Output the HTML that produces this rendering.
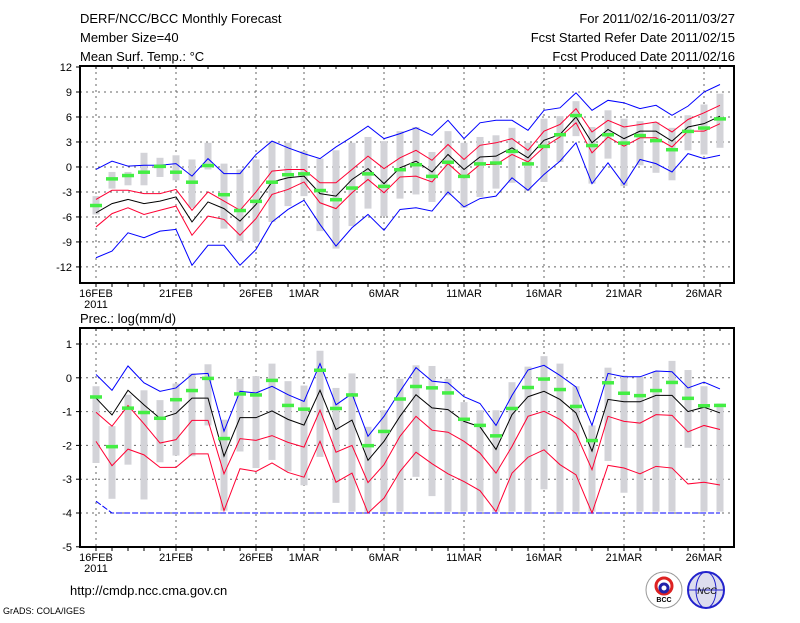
<!DOCTYPE html>
<html><head><meta charset="utf-8"><style>
body{margin:0;background:#fff;width:800px;height:618px;overflow:hidden}
svg text{font-family:"Liberation Sans",sans-serif;fill:#000}
</style></head><body>
<svg id="c" width="800" height="618" xmlns="http://www.w3.org/2000/svg">
<text x="80" y="23" font-size="13">DERF/NCC/BCC Monthly Forecast</text>
<text x="80" y="42" font-size="13">Member Size=40</text>
<text x="80" y="61" font-size="13">Mean Surf. Temp.: °C</text>
<text x="735" y="23" font-size="13" text-anchor="end">For 2011/02/16-2011/03/27</text>
<text x="735" y="42" font-size="13" text-anchor="end">Fcst Started Refer Date 2011/02/15</text>
<text x="735" y="61" font-size="13" text-anchor="end">Fcst Produced Date 2011/02/16</text>
<text x="80" y="323" font-size="13">Prec.: log(mm/d)</text>
<text x="70" y="595" font-size="13">http://cmdp.ncc.cma.gov.cn</text>
<text x="3" y="614" font-size="9">GrADS: COLA/IGES</text>
<g>
<circle cx="664" cy="590" r="18" fill="#fff" stroke="#999"/>
<circle cx="664" cy="586" r="8" fill="none" stroke="#d22" stroke-width="3"/>
<circle cx="664" cy="588" r="4" fill="none" stroke="#22a" stroke-width="3"/>
<text x="664" y="602" font-size="7" text-anchor="middle" font-weight="bold">BCC</text>
</g>
<g>
<circle cx="706" cy="590" r="18" fill="#dde" stroke="#22c" stroke-width="2"/>
<ellipse cx="706" cy="590" rx="10" ry="18" fill="none" stroke="#22c"/>
<line x1="688" y1="590" x2="724" y2="590" stroke="#22c"/>
<text x="707" y="594" font-size="9" text-anchor="middle" fill="#22c" font-style="italic">NCC</text>
</g>
</svg>
<script>
const dateLabels=["16FEB","21FEB","26FEB","1MAR","6MAR","11MAR","16MAR","21MAR","26MAR"];
const dateDays=[0,5,10,13,18,23,28,33,38];
// Temperature panel
const tBlueHi=[-0.3,0.7,0.1,0.2,0.2,0.4,-1.1,1.0,-0.8,-0.8,1.5,3.1,2.3,1.6,1.0,2.4,3.6,4.9,3.4,4.0,4.7,3.8,5.6,3.4,5.3,5.6,5.6,4.4,6.8,7.1,8.9,6.8,8.0,7.7,7.0,7.4,6.2,7.3,9.0,9.9];
const tBlueLo=[-10.9,-10.1,-7.9,-8.5,-7.7,-7.5,-11.8,-9.4,-9.4,-11.8,-9.9,-6.6,-5.1,-4.0,-6.9,-9.5,-7.3,-5.7,-7.6,-5.1,-4.9,-5.3,-3.0,-4.8,-3.8,-3.5,-1.3,-2.8,-0.9,0.7,2.9,-2.0,0.5,-2.1,0.9,0.4,-0.6,1.6,1.0,1.4];
const tRedHi=[-3.9,-2.8,-2.8,-3.2,-3.2,-2.7,-5.2,-3.0,-4.1,-5.2,-3.0,-0.5,-0.3,-0.3,-1.9,-1.9,-0.3,1.3,-0.2,1.1,2.0,0.8,2.7,0.9,2.6,2.9,3.4,2.0,4.3,5.1,7.0,4.2,5.6,4.8,5.1,5.4,4.2,5.7,6.5,7.4];
const tRedLo=[-7.2,-5.6,-4.9,-5.7,-5.2,-4.7,-8.2,-5.9,-6.3,-8.2,-6.2,-3.3,-2.7,-1.8,-4.3,-5.0,-3.1,-1.5,-3.1,-1.2,-1.1,-1.8,0.4,-1.3,0.3,0.3,1.5,0.6,2.4,3.6,5.3,1.7,3.6,2.5,3.5,3.5,2.4,4.3,4.3,5.2];
const tMean=[-5.5,-4.4,-3.9,-4.4,-4.1,-3.6,-6.6,-4.2,-5.0,-6.5,-4.5,-1.8,-1.3,-1.1,-3.2,-3.5,-1.5,-0.2,-2.0,-0.1,0.7,-0.6,1.5,-0.3,1.2,1.3,2.3,1.1,3.2,3.9,6.0,2.9,4.5,3.4,4.3,4.3,3.1,4.8,5.2,6.1];
const tBarHi=[-3.5,-0.6,-0.6,1.7,1.1,1.4,0.9,2.9,0.4,-0.3,0.9,3.1,2.9,1.9,1.0,2.0,2.9,3.6,3.1,4.3,4.8,1.8,4.3,2.9,3.6,3.8,4.7,2.9,5.8,6.1,7.9,4.8,6.8,5.8,5.5,5.4,4.7,6.2,7.5,8.8];
const tBarLo=[-5.7,-2.6,-2.2,-2.2,-1.2,-1.6,-4.9,-0.3,-7.4,-8.9,-9.0,-6.6,-4.7,-3.5,-7.7,-9.8,-7.1,-5.0,-5.9,-3.8,-3.3,-4.2,-3.4,-4.9,-3.6,-2.6,-1.9,-2.9,-1.8,0.6,3.7,-2.0,1.0,-2.3,0.2,-0.7,-1.6,2.0,1.5,2.3];
const tObs=[-4.6,-1.4,-1.0,-0.6,0.1,-0.6,-1.8,0.2,-3.3,-5.2,-4.1,-1.8,-0.9,-0.8,-2.8,-3.9,-2.5,-0.8,-2.3,-0.3,0.3,-1.1,0.6,-1.1,0.4,0.5,1.9,0.4,2.5,3.9,6.2,2.6,3.9,2.9,3.8,3.2,2.1,4.3,4.7,5.8];
const tTicks=[12,9,6,3,0,-3,-6,-9,-12];
// Precipitation panel
const pBlueHi=[0.1,-0.37,0.35,-0.15,-0.4,-0.3,0.1,0.13,-1.58,-0.4,-0.45,-0.25,-0.5,-0.7,0.42,-0.8,-0.47,-1.73,-1.14,-0.4,0.3,-0.1,-0.15,-0.56,-0.76,-1.41,-0.52,0.23,0.37,0.07,-0.27,-1.41,0.13,0.03,0.03,0.2,0.18,-0.3,-0.13,-0.33];
const pBlueLo=[-3.65,-4,-4,-4,-4,-4,-4,-4,-4,-4,-4,-4,-4,-4,-4,-4,-4,-4,-4,-4,-4,-4,-4,-4,-4,-4,-4,-4,-4,-4,-4,-4,-4,-4,-4,-4,-4,-4,-4,-4];
const pRedHi=[-1.02,-1.43,-0.82,-1.36,-1.93,-1.83,-1.26,-1.26,-2.84,-1.8,-1.85,-1.71,-1.91,-2.05,-0.96,-2.2,-2.0,-3.1,-2.57,-1.73,-1.14,-1.55,-1.61,-1.88,-2.23,-2.82,-2.03,-1.14,-0.99,-1.23,-1.65,-2.72,-1.14,-1.29,-1.34,-1.09,-1.11,-1.6,-1.41,-1.53];
const pRedLo=[-1.88,-2.6,-2.11,-2.28,-2.65,-2.65,-2.25,-2.25,-3.93,-2.69,-2.77,-2.52,-2.8,-2.94,-1.88,-3.09,-2.82,-4.0,-3.56,-2.77,-2.2,-2.54,-2.84,-3.07,-3.34,-3.96,-2.82,-2.35,-2.13,-2.57,-2.87,-4.0,-2.59,-2.67,-2.84,-2.62,-2.67,-3.14,-3.09,-3.17];
const pMean=[-0.6,-1.1,-0.37,-0.8,-1.2,-1.05,-0.6,-0.6,-2.32,-1.18,-1.18,-0.98,-1.23,-1.4,-0.37,-1.53,-1.25,-2.44,-1.88,-1.14,-0.5,-0.89,-0.94,-1.29,-1.45,-2.12,-1.09,-0.56,-0.4,-0.64,-1.04,-2.17,-0.64,-0.71,-0.71,-0.52,-0.52,-1.0,-0.87,-1.04];
const pBarHi=[-0.25,-1.43,-0.5,-0.37,-0.66,-0.17,0.13,0.4,-1.24,-0.03,0.05,0.42,-0.1,-0.23,0.8,-0.3,0.13,-1.45,-0.96,-0.03,0.37,0.35,-0.03,-0.72,-0.96,-0.96,-0.13,0.33,0.64,0.42,-0.25,-1.41,0.3,0.07,0.03,0.2,0.5,0.23,-0.25,-0.76];
const pBarLo=[-2.52,-3.58,-2.57,-3.6,-2.5,-2.3,-2.32,-1.41,-3.93,-2.18,-2.67,-2.43,-2.77,-3.18,-2.34,-3.7,-3.96,-3.96,-3.96,-3.96,-2.93,-3.5,-3.96,-3.96,-3.96,-3.96,-3.96,-3.96,-3.3,-3.96,-3.96,-3.96,-2.46,-3.4,-3.96,-3.96,-3.96,-2.07,-3.96,-3.96];
const pObs=[-0.56,-2.03,-0.89,-1.02,-1.19,-0.64,-0.37,-0.01,-1.79,-0.47,-0.5,-0.07,-0.81,-0.92,0.23,-0.9,-0.5,-2.0,-1.58,-0.62,-0.25,-0.29,-0.44,-1.22,-1.4,-1.71,-0.9,-0.28,-0.03,-0.34,-0.84,-1.85,-0.14,-0.45,-0.52,-0.37,-0.13,-0.6,-0.82,-0.81];
const pTicks=[1,0,-1,-2,-3,-4,-5];

const NS="http://www.w3.org/2000/svg";
const svg=document.getElementById('c');
function mk(tag,attrs,parent){const e=document.createElementNS(NS,tag);for(const k in attrs)e.setAttribute(k,attrs[k]);(parent||svg).appendChild(e);return e;}
const X0=80,X1=734;
function xs(d){return 96+16*d;}

function panel(cfg){
  const ys=v=>cfg.yTop+(cfg.vTop-v)*cfg.ppu;
  const g=mk('g',{});
  
  
  cfg.ticks.forEach(t=>{
    const y=ys(t);
    if(y>cfg.boxT+1&&y<cfg.boxB-1){const l=mk('line',{x1:X0,x2:X1,y1:y,y2:y,stroke:'#666','stroke-dasharray':'2,4','stroke-width':1},g);
      }
    const tl=mk('line',{x1:X0-4,x2:X0,y1:y,y2:y,stroke:'#000'},g);
    
    const tx=mk('text',{x:X0-8,y:y+4,'font-size':11,'text-anchor':'end'},g);tx.textContent=t;
    
  });
  dateDays.forEach((d,i)=>{
    const x=xs(d);
    const l=mk('line',{x1:x,x2:x,y1:cfg.boxT,y2:cfg.boxB,stroke:'#666','stroke-dasharray':'2,4'},g);
    
    const t=mk('text',{x:x,y:cfg.boxB+14,'font-size':11,'text-anchor':'middle'},g);t.textContent=dateLabels[i];
    
  });
  const yr=mk('text',{x:96,y:cfg.boxB+25,'font-size':11,'text-anchor':'middle'},g);yr.textContent='2011';
  
  for(let d=0;d<40;d++){
    const x=xs(d);
    mk('line',{x1:x,x2:x,y1:cfg.boxB,y2:cfg.boxB+4,stroke:'#000'},g);
    mk('line',{x1:x,x2:x,y1:cfg.boxT,y2:cfg.boxT+3,stroke:'#000'},g);
  }
  cfg.barHi.forEach((h,i)=>{
    const lo=cfg.barLo[i];const x=xs(i);
    const r=mk('rect',{x:x-3.5,y:ys(h),width:7,height:ys(lo)-ys(h),fill:'#d3d3d8'},g);
    
  });
  function line(arr,color,name,dash){
    const p=mk('polyline',{points:arr.map((v,i)=>xs(i)+','+ys(v)).join(' '),fill:'none',stroke:color,'stroke-width':1},g);
    if(dash)p.setAttribute('stroke-dasharray',dash);
    
  }
  line(cfg.blueHi,'#0000ff','blue-upper-line');
  line(cfg.blueLo,'#0000ff','blue-lower-line',cfg.loDash);
  line(cfg.redHi,'#ff0033','red-upper-line');
  line(cfg.redLo,'#ff0033','red-lower-line');
  line(cfg.mean,'#000','ensemble-mean-line');
  cfg.obs.forEach((v,i)=>{
    const r=mk('rect',{x:xs(i)-6,y:ys(v)-1.5,width:12,height:3.5,fill:'#44ee44'},g);
    
  });
  const b=mk('rect',{x:X0,y:cfg.boxT,width:X1-X0,height:cfg.boxB-cfg.boxT,fill:'none',stroke:'#000','stroke-width':2},g);
  
}
panel({name:'temperature-panel',yTop:67,vTop:12,ppu:8.33,boxT:66,boxB:283,ticks:tTicks,
  blueHi:tBlueHi,blueLo:tBlueLo,redHi:tRedHi,redLo:tRedLo,mean:tMean,barHi:tBarHi,barLo:tBarLo,obs:tObs});
panel({name:'precipitation-panel',yTop:344,vTop:1,ppu:33.8,boxT:328,boxB:547,ticks:pTicks,loDash:'6,2',
  blueHi:pBlueHi,blueLo:pBlueLo,redHi:pRedHi,redLo:pRedLo,mean:pMean,barHi:pBarHi,barLo:pBarLo,obs:pObs});
</script>
</body></html>
